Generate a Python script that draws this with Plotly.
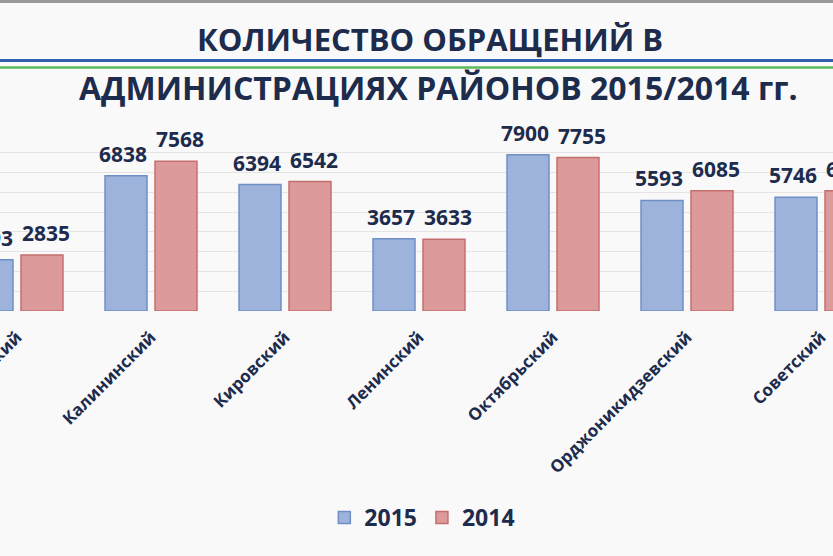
import plotly.graph_objects as go

categories = ["Демский", "Калининский", "Кировский", "Ленинский", "Октябрьский",
              "Орджоникидзевский", "Советский"]
values_2015 = [2593, 6838, 6394, 3657, 7900, 5593, 5746]
values_2014 = [2835, 7568, 6542, 3633, 7755, 6085, 6074]
series_names = ["2015", "2014"]

W, H = 833, 556
PLOT_TOP, PLOT_BOTTOM = 133, 311
NAVY = "#1d2b4c"
BLUE_FILL, BLUE_LINE = "#9db3db", "#6f8fc6"
RED_FILL, RED_LINE = "#dd9a9a", "#c56e6e"

fig = go.Figure()
fig.add_trace(go.Bar(x=categories, y=values_2015, name=series_names[0],
                     marker=dict(color=BLUE_FILL, line=dict(color=BLUE_LINE, width=1.5))))
fig.add_trace(go.Bar(x=categories, y=values_2014, name=series_names[1],
                     marker=dict(color=RED_FILL, line=dict(color=RED_LINE, width=1.5))))

annotations = []
for vals, dx in ((values_2015, -28), (values_2014, 29)):
    for c, v in zip(categories, vals):
        annotations.append(dict(x=c, y=v, xref="x", yref="y", text=str(v), showarrow=False,
                                xshift=dx, yshift=6, yanchor="bottom",
                                font=dict(family="Open Sans", size=21, color=NAVY, weight="bold")))

def py(ypx):
    return (PLOT_BOTTOM - ypx) / (PLOT_BOTTOM - PLOT_TOP)

annotations.append(dict(x=0.516, y=py(39), xref="paper", yref="paper", text="КОЛИЧЕСТВО ОБРАЩЕНИЙ В",
                        showarrow=False, xanchor="center", yanchor="middle",
                        font=dict(family="Open Sans", size=31, color=NAVY, weight="bold")))
annotations.append(dict(x=0.526, y=py(88), xref="paper", yref="paper",
                        text="АДМИНИСТРАЦИЯХ РАЙОНОВ 2015/2014 гг.",
                        showarrow=False, xanchor="center", yanchor="middle",
                        font=dict(family="Open Sans", size=32, color=NAVY, weight="bold")))

shapes = [
    dict(type="rect", xref="paper", yref="paper", x0=0, x1=1, y0=py(0), y1=py(3),
         fillcolor="#9a9a9a", line=dict(width=0), layer="above"),
    dict(type="line", xref="paper", yref="paper", x0=0, x1=1, y0=py(60.5), y1=py(60.5),
         line=dict(color="#2f5fae", width=3)),
    dict(type="line", xref="paper", yref="paper", x0=0, x1=1, y0=py(67.5), y1=py(67.5),
         line=dict(color="#5cb85c", width=2.5)),
]

step = 134.0
x0 = -17 / step
fig.update_layout(
    width=W, height=H,
    margin=dict(l=0, r=0, t=PLOT_TOP, b=H - PLOT_BOTTOM, pad=0, autoexpand=False),
    paper_bgcolor="#f9f9f9", plot_bgcolor="#f9f9f9",
    barmode="group", bargap=0.254, bargroupgap=0.16,
    showlegend=True,
    legend=dict(orientation="h", x=0.507, xanchor="center", y=py(496), yanchor="top",
                font=dict(family="Open Sans", size=23, color=NAVY, weight="bold"),
                bgcolor="rgba(0,0,0,0)", traceorder="normal"),
    xaxis=dict(type="category", range=[x0, x0 + W / step], showgrid=False, showline=False,
               ticks="", tickangle=-45, zeroline=False, automargin=False, ticklabelstandoff=12,
               tickfont=dict(family="Open Sans", size=17, color=NAVY, weight="bold")),
    yaxis=dict(range=[0, 9000], dtick=1000, showgrid=True, gridcolor="#e4e4e4", gridwidth=1,
               showticklabels=False, zeroline=False, showline=False, ticks="", automargin=False),
    annotations=annotations, shapes=shapes,
)

fig.write_html("out.html")
